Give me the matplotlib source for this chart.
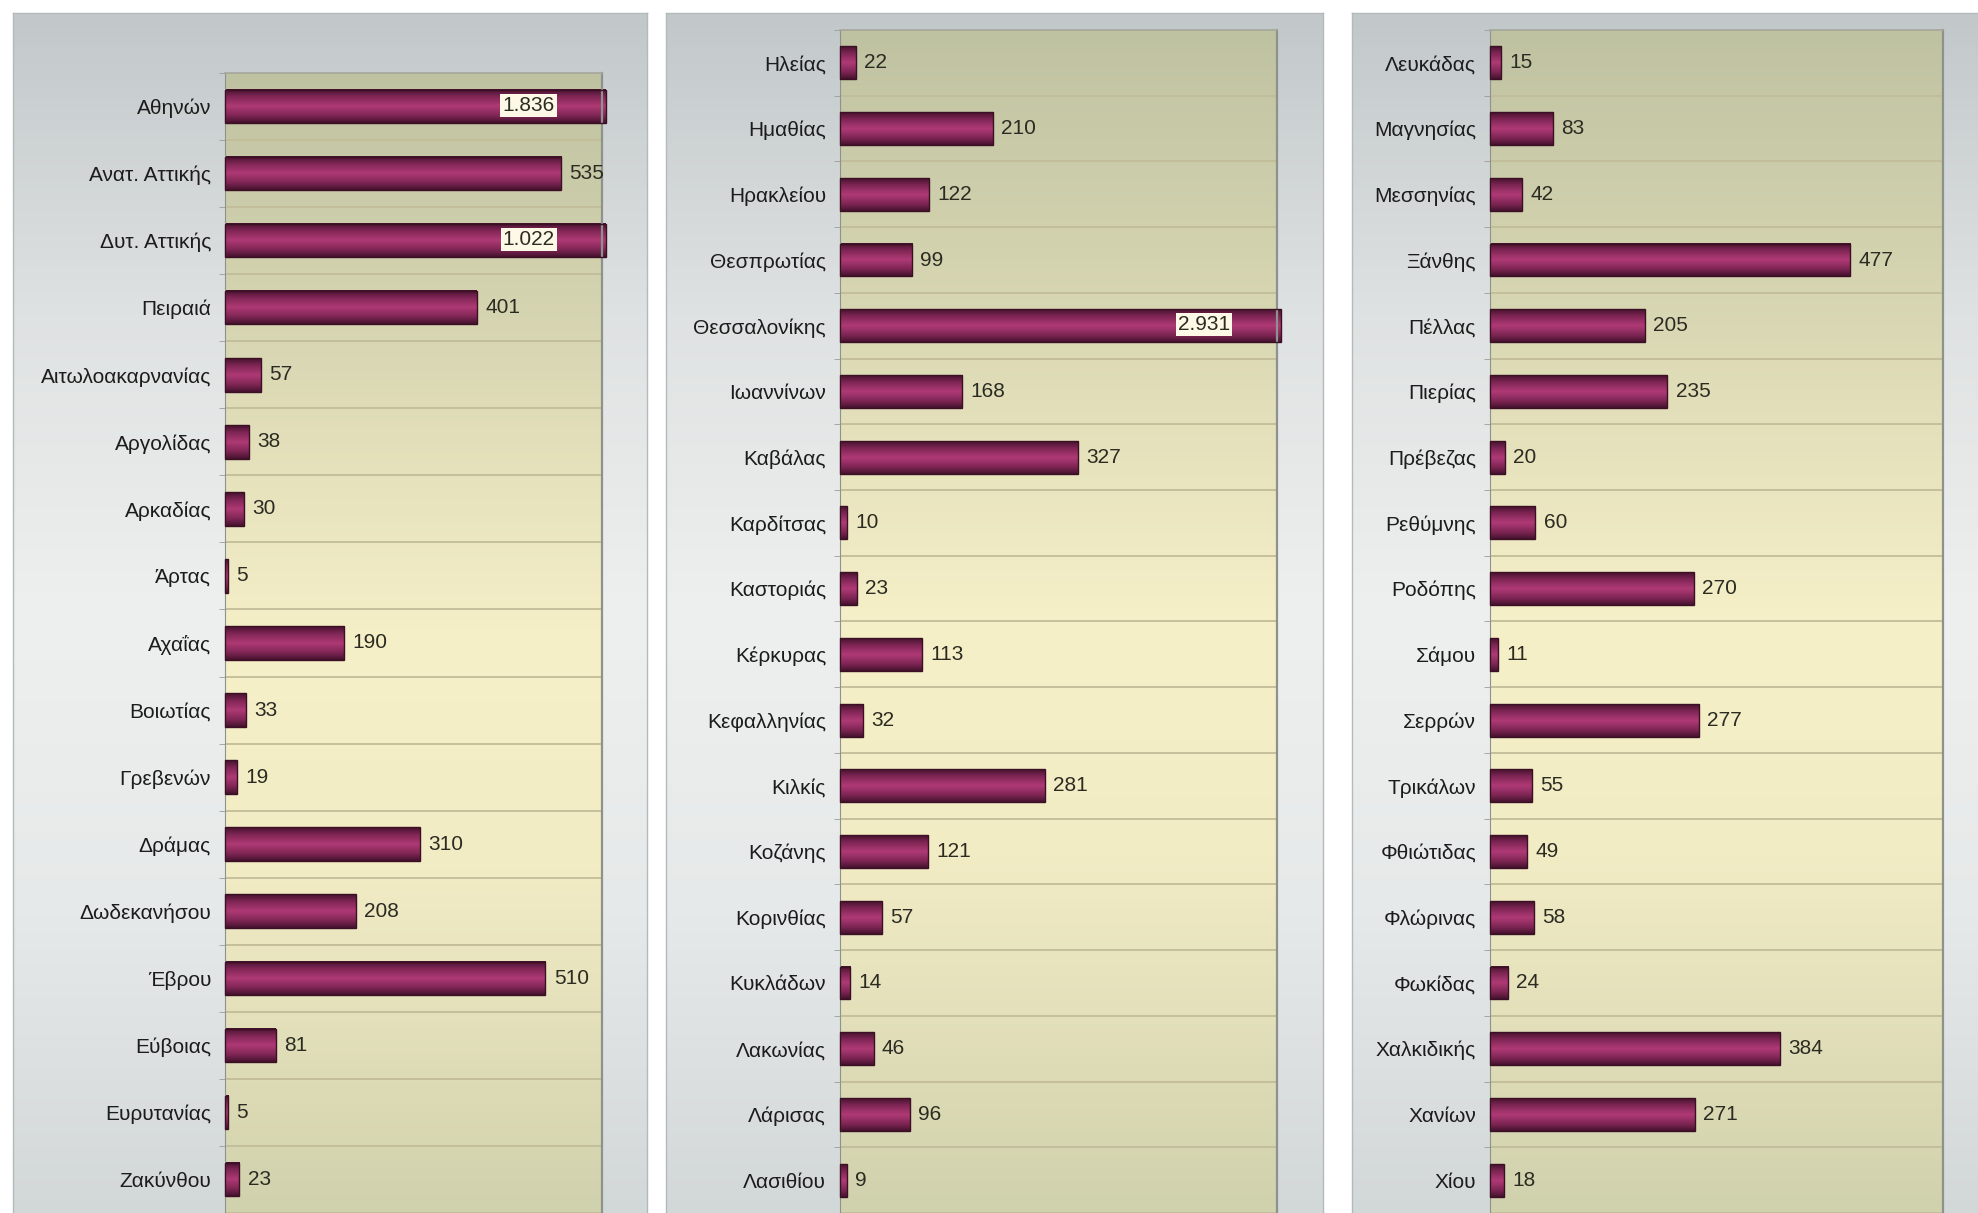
import numpy as np
import matplotlib
matplotlib.use("Agg")
import matplotlib.pyplot as plt
from matplotlib.colors import LinearSegmentedColormap

# ---------------- data ----------------
names_1 = ["Αθηνών", "Ανατ. Αττικής", "Δυτ. Αττικής", "Πειραιά", "Αιτωλοακαρνανίας",
           "Αργολίδας", "Αρκαδίας", "Άρτας", "Αχαΐας", "Βοιωτίας", "Γρεβενών", "Δράμας",
           "Δωδεκανήσου", "Έβρου", "Εύβοιας", "Ευρυτανίας", "Ζακύνθου"]
values_1 = [1836, 535, 1022, 401, 57, 38, 30, 5, 190, 33, 19, 310, 208, 510, 81, 5, 23]

names_2 = ["Ηλείας", "Ημαθίας", "Ηρακλείου", "Θεσπρωτίας", "Θεσσαλονίκης", "Ιωαννίνων",
           "Καβάλας", "Καρδίτσας", "Καστοριάς", "Κέρκυρας", "Κεφαλληνίας", "Κιλκίς",
           "Κοζάνης", "Κορινθίας", "Κυκλάδων", "Λακωνίας", "Λάρισας", "Λασιθίου"]
values_2 = [22, 210, 122, 99, 2931, 168, 327, 10, 23, 113, 32, 281, 121, 57, 14, 46, 96, 9]

names_3 = ["Λευκάδας", "Μαγνησίας", "Μεσσηνίας", "Ξάνθης", "Πέλλας", "Πιερίας", "Πρέβεζας",
           "Ρεθύμνης", "Ροδόπης", "Σάμου", "Σερρών", "Τρικάλων", "Φθιώτιδας", "Φλώρινας",
           "Φωκίδας", "Χαλκιδικής", "Χανίων", "Χίου"]
values_3 = [15, 83, 42, 477, 205, 235, 20, 60, 270, 11, 277, 55, 49, 58, 24, 384, 271, 18]

X_MAX = 600

# ---------------- style ----------------
plt.rcParams['font.family'] = ['Liberation Sans', 'DejaVu Sans']
W, H = 1978, 1213
FS = 15

panel_bg = LinearSegmentedColormap.from_list(
    "panel", ["#c2c8ca", "#dfe2e2", "#eef0ef", "#e6e9e9", "#d2d7d8"])
plot_bg = LinearSegmentedColormap.from_list(
    "plotbg", [(0, "#bfc2a1"), (0.25, "#dad8b4"), (0.5, "#f6f0c8"), (0.7, "#f2ecc5"), (1, "#d0d1ad")])
bar_cm = LinearSegmentedColormap.from_list(
    "bar", [(0, "#45122d"), (0.2, "#7c2553"), (0.5, "#b03a76"), (0.8, "#7c2553"), (1, "#45122d")])


def px_rect(x0, y0, x1, y1):
    return [x0 / W, 1 - y1 / H, (x1 - x0) / W, (y1 - y0) / H]


def fmt(v):
    return f"{v:,}".replace(",", ".")


def draw_panel(fig, panel_box, plot_box, names, values):
    # outer grey panel
    pax = fig.add_axes(px_rect(*panel_box), zorder=0)
    pax.imshow(np.linspace(0, 1, 256).reshape(-1, 1), cmap=panel_bg, aspect="auto",
               extent=[0, 1, 0, 1], origin="upper")
    pax.set_xlim(0, 1)
    pax.set_ylim(0, 1)
    pax.set_xticks([])
    pax.set_yticks([])
    for s in pax.spines.values():
        s.set_color("#b4b9bb")
        s.set_linewidth(1.0)

    ax = fig.add_axes(px_rect(*plot_box), zorder=1)
    ax.patch.set_alpha(0)
    n = len(names)
    ypos = np.arange(n)

    ax.imshow(np.linspace(0, 1, 256).reshape(-1, 1), cmap=plot_bg, aspect="auto",
              extent=[0, 1, 0, 1], transform=ax.transAxes, origin="upper", zorder=0)

    for b in np.arange(n + 1) - 0.5:
        ax.axhline(b, color="#c2bd98", lw=1.3, zorder=1)

    # clipped bars run a little past the right edge, like the original
    shown = [min(v, X_MAX * 1.01) for v in values]
    bars = ax.barh(ypos, shown, height=0.5, facecolor="none", edgecolor="#3b1024",
                   linewidth=1.0, zorder=3, clip_on=False)
    grad = np.linspace(0, 1, 64).reshape(-1, 1)
    for bar in bars:
        x0, y0 = bar.get_x(), bar.get_y()
        im = ax.imshow(grad, cmap=bar_cm, aspect="auto", origin="upper",
                       extent=[x0, x0 + bar.get_width(), y0, y0 + bar.get_height()],
                       zorder=2.5, clip_on=False, interpolation="bilinear")
        im.set_clip_path(bar)

    for y, v in zip(ypos, values):
        if v > X_MAX:
            ax.annotate(fmt(v), (X_MAX, y), xytext=(-34, 1), textcoords="offset points",
                        ha="right", va="center", fontsize=FS, color="#2b2b22", zorder=5,
                        bbox=dict(boxstyle="square,pad=0.1", fc="#fdf9e6", ec="none"))
        else:
            ax.annotate(fmt(v), (v, y), xytext=(6, 0), textcoords="offset points",
                        ha="left", va="center", fontsize=FS, color="#2b2b22", zorder=5)

    ax.set_xlim(0, X_MAX)
    ax.set_ylim(n - 0.5, -0.5)
    ax.set_yticks(ypos)
    ax.set_yticklabels(names, fontsize=FS, color="#1c1c1c")
    ax.set_yticks(np.arange(n + 1) - 0.5, minor=True)
    ax.tick_params(axis="y", which="major", length=0, pad=10)
    ax.tick_params(axis="y", which="minor", length=4, color="#9a9e98", direction="out")
    ax.set_xticks([])
    ax.spines["bottom"].set_visible(False)
    ax.spines["left"].set_color("#8e928d")
    ax.spines["right"].set_color("#8e928d")
    ax.spines["right"].set_linewidth(1.6)
    ax.spines["top"].set_color("#a3a79d")
    ax.spines["top"].set_linewidth(1.2)
    return ax


fig = plt.figure(figsize=(W / 100, H / 100), dpi=100)
fig.patch.set_facecolor("white")

draw_panel(fig, (13, 13, 647, H + 5), (225, 73, 602, H), names_1, values_1)
draw_panel(fig, (666, 13, 1323, H + 5), (840, 30, 1277, H), names_2, values_2)
draw_panel(fig, (1352, 13, W + 5, H + 5), (1490, 30, 1943, H), names_3, values_3)

fig.savefig("out.png", dpi=100)
